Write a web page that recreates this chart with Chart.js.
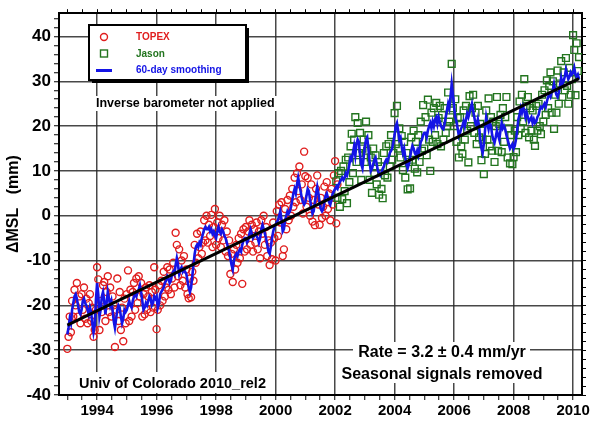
<!doctype html>
<html lang="en">
<head>
  <meta charset="utf-8">
  <title>Mean sea level, TOPEX / Jason</title>
  <script src="https://cdn.jsdelivr.net/npm/chart.js"></script>
  <style>
    html, body { margin: 0; padding: 0; background: #ffffff; }
    #box { width: 593px; height: 421px; }
  </style>
</head>
<body>
  <div id="box"><canvas id="msl" width="593" height="421"></canvas></div>

  <script>
    // --- data (years, mm) ---
    const topexYears = [
      1993,1993.04,1993.08,1993.12,1993.16,1993.2,1993.24,1993.28,1993.32,1993.36,1993.4,1993.44,1993.48,1993.52,1993.56,1993.6,1993.64,1993.68,1993.72,1993.76,1993.8,1993.84,1993.88,1993.92,1993.96,
      1994,1994.04,1994.08,1994.12,1994.16,1994.2,1994.24,1994.28,1994.32,1994.36,1994.4,1994.44,1994.48,1994.52,1994.56,1994.6,1994.64,1994.68,1994.72,1994.76,1994.8,1994.84,1994.88,1994.92,1994.96,
      1995,1995.04,1995.08,1995.12,1995.16,1995.2,1995.24,1995.28,1995.32,1995.36,1995.4,1995.44,1995.48,1995.52,1995.56,1995.6,1995.64,1995.68,1995.72,1995.76,1995.8,1995.84,1995.88,1995.92,1995.96,
      1996,1996.04,1996.08,1996.12,1996.16,1996.2,1996.24,1996.28,1996.32,1996.36,1996.4,1996.44,1996.48,1996.52,1996.56,1996.6,1996.64,1996.68,1996.72,1996.76,1996.8,1996.84,1996.88,1996.92,1996.96,
      1997,1997.04,1997.08,1997.12,1997.16,1997.2,1997.24,1997.28,1997.32,1997.36,1997.4,1997.44,1997.48,1997.52,1997.56,1997.6,1997.64,1997.68,1997.72,1997.76,1997.8,1997.84,1997.88,1997.92,1997.96,
      1998,1998.04,1998.08,1998.12,1998.16,1998.2,1998.24,1998.28,1998.32,1998.36,1998.4,1998.44,1998.48,1998.52,1998.56,1998.6,1998.64,1998.68,1998.72,1998.76,1998.8,1998.84,1998.88,1998.92,1998.96,
      1999,1999.04,1999.08,1999.12,1999.16,1999.2,1999.24,1999.28,1999.32,1999.36,1999.4,1999.44,1999.48,1999.52,1999.56,1999.6,1999.64,1999.68,1999.72,1999.76,1999.8,1999.84,1999.88,1999.92,1999.96,
      2000,2000.04,2000.08,2000.12,2000.16,2000.2,2000.24,2000.28,2000.32,2000.36,2000.4,2000.44,2000.48,2000.52,2000.56,2000.6,2000.64,2000.68,2000.72,2000.76,2000.8,2000.84,2000.88,2000.92,2000.96,
      2001,2001.04,2001.08,2001.12,2001.16,2001.2,2001.24,2001.28,2001.32,2001.36,2001.4,2001.44,2001.48,2001.52,2001.56,2001.6,2001.64,2001.68,2001.72,2001.76,2001.8,2001.84,2001.88,2001.92,2001.96,
      2002,2002.04,2002.08
    ];
    const topexMsl = [
      -29.7,-27,-22.5,-26,-19,-22.5,-16.5,-20,-15,-22.5,-18,-24,-17.5,-21,-16,-23,-18.5,-24,-19.5,-17.5,-23.5,-20.5,-27,-25.5,-21,
      -11.5,-14.2,-25.5,-19,-21.5,-15.5,-14.8,-23.5,-17,-13.5,-21.5,-16,-22.5,-18,-20,-29.3,-21,-14,-23.5,-17,-25.5,-20.5,-28,-18.5,-24,
      -17.5,-12.2,-23.5,-16.5,-22.5,-17,-15,-21,-14,-19.5,-13.5,-18,-15,-22.5,-17.5,-22,-16,-21,-18,-15.5,-21.5,-17,-20.5,-11.5,-16.5,
      -25.3,-21,-15.5,-20,-14.5,-19,-12.5,-18,-16,-11.5,-16.5,-12,-17.5,-14,-10.5,-16,-3.8,-6.5,-13.5,-7.5,-15.5,-10,-14.5,-9,-16,
      -12,-17.5,-18.4,-14,-18.2,-12.5,-14.5,-6.5,-10.5,-4,-9.5,-7,-3.5,-8.5,-6,-1,-5.5,0,-6,-2,-4.5,0.2,-7,-2.5,1.5,
      -6.5,-1.5,-5,0,-7,-2,-5.5,-1,-8,-3.5,-9,-5.5,-13,-8.5,-14.8,-7.5,-12,-6.5,-10.5,-5,-9.5,-4,-15.2,-3,-8,
      -2.5,-7.5,-3.5,-1,-6.5,-2,-8,-3,-6,-1.5,-7.5,-3.5,-9.5,-1,-4,0,-6.5,-2.5,-9,-5.5,-11,-6,-9.7,-1.5,-5,
      -10,1,-4.5,2.5,-1.5,3,-9,-7.5,1.5,-3,3.5,-1,4.5,0,6,2,8.5,3,9.5,5.5,11,3.5,7,0.5,14.3,
      8.8,2,8.4,4,0,7,-1.3,3.5,-2.1,6,9,2.5,-2,4,-0.5,2,6.5,0,7.5,1.5,5,-1,6,2.5,9,
      12.2,-1.7,7
    ];
    const topexSmooth = [
      -26.5,-25,-23,-24,-21,-19.5,-18,-17.5,-18.5,-20,-21.5,-22,-21,-19,-18.5,-19.5,-20,-21,-22,-20.5,-21.5,-24,-26,-24.5,-19,
      -15,-17.5,-22.5,-21,-18,-17,-19,-22,-19.5,-17,-18.5,-20,-19,-21,-23.5,-25,-23,-21,-20,-20.5,-22.5,-24,-23,-21,-21.5,
      -21,-20,-19,-20,-20.5,-19,-18,-17.5,-18,-17,-16.5,-15.5,-17,-19,-21,-20.5,-19.5,-20,-19,-18,-18.5,-20,-19.5,-18,-18.5,
      -18,-20.5,-19.5,-17.5,-17,-16.5,-16,-15,-14.5,-13.5,-14,-15,-14.5,-13,-12.5,-13,-11,-9.5,-11,-13,-12,-11.5,-12.5,-12,-12.5,
      -13,-14.5,-16,-17,-16,-13.5,-11,-8.5,-7,-6.5,-7,-6,-6.5,-5,-4,-3,-2.5,-3,-3,-2.5,-3.5,-3,-4,-3.5,-4.5,
      -5,-3.5,-2.5,-3.5,-4,-3,-3.5,-4.5,-5,-6,-7,-8,-9.5,-11,-12,-10,-9,-8.5,-9,-8,-7.5,-8,-6.5,-5.5,-5,
      -5,-6,-5.5,-4,-3,-4,-5,-4.5,-4,-4.5,-5,-6,-5,-3,-2,-3,-4,-5,-6.5,-8,-8.5,-7,-5,-3.5,-2.5,
      -2,-1.5,-1,0,1,-1,-3.5,-3,-1,0,1,0.5,1,2,3.5,5,6,5,7,8.5,7,5.5,4,3,2.5,
      3,4.5,6,5.5,3.5,2,0.5,1,3,5,6.5,5,3,1.5,1,1.5,3,4.5,5,4,3,2.5,3.5,5,5.5,
      6,6.5,7
    ];

    const jasonYears = [
      2002.04,2002.08,2002.12,2002.16,2002.2,2002.24,2002.28,2002.32,2002.36,2002.4,2002.44,2002.48,2002.52,2002.56,2002.6,2002.64,2002.68,2002.72,2002.76,2002.8,2002.84,2002.88,2002.92,2002.96,
      2003,2003.04,2003.08,2003.12,2003.16,2003.2,2003.24,2003.28,2003.32,2003.36,2003.4,2003.44,2003.48,2003.52,2003.56,2003.6,2003.64,2003.68,2003.72,2003.76,2003.8,2003.84,2003.88,2003.92,2003.96,
      2004,2004.04,2004.08,2004.12,2004.16,2004.2,2004.24,2004.28,2004.32,2004.36,2004.4,2004.44,2004.48,2004.52,2004.56,2004.6,2004.64,2004.68,2004.72,2004.76,2004.8,2004.84,2004.88,2004.92,2004.96,
      2005,2005.04,2005.08,2005.12,2005.16,2005.2,2005.24,2005.28,2005.32,2005.36,2005.4,2005.44,2005.48,2005.52,2005.56,2005.6,2005.64,2005.68,2005.72,2005.76,2005.8,2005.84,2005.88,2005.92,2005.96,
      2006,2006.04,2006.08,2006.12,2006.16,2006.2,2006.24,2006.28,2006.32,2006.36,2006.4,2006.44,2006.48,2006.52,2006.56,2006.6,2006.64,2006.68,2006.72,2006.76,2006.8,2006.84,2006.88,2006.92,2006.96,
      2007,2007.04,2007.08,2007.12,2007.16,2007.2,2007.24,2007.28,2007.32,2007.36,2007.4,2007.44,2007.48,2007.52,2007.56,2007.6,2007.64,2007.68,2007.72,2007.76,2007.8,2007.84,2007.88,2007.92,2007.96,
      2008,2008.04,2008.08,2008.12,2008.16,2008.2,2008.24,2008.28,2008.32,2008.36,2008.4,2008.44,2008.48,2008.52,2008.56,2008.6,2008.64,2008.68,2008.72,2008.76,2008.8,2008.84,2008.88,2008.92,2008.96,
      2009,2009.04,2009.08,2009.12,2009.16,2009.2,2009.24,2009.28,2009.32,2009.36,2009.4,2009.44,2009.48,2009.52,2009.56,2009.6,2009.64,2009.68,2009.72,2009.76,2009.8,2009.84,2009.88,2009.92,2009.96,
      2010,2010.04,2010.08,2010.12,2010.16,2010.2
    ];
    const jasonMsl = [
      7.7,4,9.5,2,10,3.7,11,5.5,12.5,2.8,13,7.5,15.5,18.3,9.5,17,22,12,20.7,14,18.5,8,15,17,
      12,21,14.5,18,8,13,5.1,15,9.5,13.5,7,12,4.7,11,6,3.9,14,9,15.5,8.5,16,11,18,12.5,14,
      22.9,16,24.5,15,19.5,13,17.8,10.2,16.5,8.5,14,5.9,12,6.1,17.5,12.5,19,10.5,16.5,9.7,18,12,21,14.5,24.7,
      15,22,13.5,25.9,17,10,23,16.5,24,18,25.2,16,21.8,24.5,15.5,22.5,17,24,18.5,20,27.5,21,23.5,33.9,24,
      20,26,16.5,21.8,13,22,15.5,13.8,23.5,17,24.5,19,11.9,26.7,20,24,27,18.5,23,16,24.5,17.5,20.5,12.4,17,
      9.3,13.8,23.5,17,26.2,15.5,22,14.5,21,12,20,26.5,14.5,20.5,22.5,14.2,24,16.5,22,26.5,13,19.5,11.7,18,11.5,
      13.1,19,14.2,22,18,25.5,19.5,27,21,30.5,18.5,24.5,26.5,17.5,24,19,23.5,17,15.6,24.5,19,25,20,18.2,27,
      21,28,22.5,30.2,24,29,32,23,30,19.4,27,23,32.4,25,29.5,34.5,26.5,32,28,35.2,29,25,33,27,30.5,
      40.3,37,26.9,38.5,32.3,35.4
    ];
    const jasonSmooth = [
      6.3,6,7,7.5,8,8.5,8,8.5,9.5,9,10,11.5,13,12.5,14,15.5,13.5,16,17,16.5,13.5,11.5,10.6,13,
      15.5,17,17.5,15,12,10,10.5,11.5,12.5,13,11.5,10,9.5,9,9.5,10.5,11,12,12.5,12,13,14,14.5,15,16.5,
      18,20,20.7,19,17,17.5,15.5,14,15,13,11.5,10.6,11.5,13,14.5,15.6,15,14,13.5,14.5,13.5,15,16.5,17,18,
      18.5,18.5,17.5,19,20,20.7,19.5,21,20,21.5,22,20.5,22,21,20,19.5,19.3,20.5,22,23.5,25,24,26.5,29.4,27,
      24.5,22,21,19.5,17.8,18.5,19.5,20,21,20,21.5,22.8,22,23,24,25,23.5,22,20.5,20,21.5,20,17,15,14,
      16,19,22,20.5,19.3,20.7,20,18,17,16.3,17.5,19,18,17,19,20.7,19.5,20,19.3,18,17,16,15,15.5,16,
      15,15.6,17,19,21.5,22.5,24,23,24.3,23.5,22,23,22,21,21.5,22,20.7,21.5,20.7,21,22,22.5,23.7,24.3,24,
      24.5,25,24.3,25.5,26.5,27,26.5,27.5,28,29.4,28,27,26.5,27.5,29,30.8,29.4,30,31,32.6,31.5,30.5,31,32,31.5,
      32,33,31.5,31,31.5,30.5
    ];

    // linear fit, 3.2 mm/yr
    const trendYears = [1993, 2010.2];
    const trendMsl = [-24.4, 30.6];

    const FONT = "'Liberation Sans', Arial, Helvetica, sans-serif";
    const RED = '#e01e1e';
    const GREEN = '#23751f';
    const BLUE = '#1414e6';

    function pts(xs, ys) {
      return xs.map((x, i) => ({ x: x, y: ys[i] }));
    }
    function near(v, step) {
      const r = Math.round(v / step) * step;
      return Math.abs(v - r) < 1e-6 ? r : null;
    }
    const evenYear = v => near(v, 2) !== null;
    const tenMm = v => near(v, 10) !== null;

    // notes, legend box and white patches behind the text
    const notes = {
      id: 'notes',
      beforeDatasetsDraw(chart) {
        const c = chart.ctx;
        c.save();
        c.fillStyle = '#ffffff';
        c.fillRect(94, 96, 184, 15);
        c.fillRect(353, 342, 177, 41);
        c.fillRect(76, 372, 193, 21);
        c.restore();
      },
      afterDraw(chart) {
        const c = chart.ctx;
        c.save();
        // legend box with shadow
        c.fillStyle = '#000';
        c.fillRect(92, 28, 157, 55);
        c.fillStyle = '#fff';
        c.fillRect(89, 25, 157, 55);
        c.strokeStyle = '#000';
        c.lineWidth = 2;
        c.strokeRect(89, 25, 157, 55);

        c.lineWidth = 1.4;
        c.strokeStyle = RED;
        c.beginPath(); c.arc(104, 37, 3.5, 0, Math.PI * 2); c.stroke();
        c.strokeStyle = GREEN;
        c.strokeRect(100.5, 50, 7, 7);
        c.strokeStyle = BLUE;
        c.lineWidth = 3;
        c.beginPath(); c.moveTo(96, 70.5); c.lineTo(112, 70.5); c.stroke();

        c.font = 'bold 10px ' + FONT;
        c.textBaseline = 'alphabetic';
        c.textAlign = 'left';
        c.fillStyle = RED;   c.fillText('TOPEX', 136, 40);
        c.fillStyle = GREEN; c.fillText('Jason', 136, 56.5);
        c.fillStyle = BLUE;  c.fillText('60-day smoothing', 136, 73);

        c.fillStyle = '#000';
        c.font = 'bold 12.5px ' + FONT;
        c.fillText('Inverse barometer not applied', 96, 107);
        c.font = 'bold 14.5px ' + FONT;
        c.fillText('Univ of Colorado 2010_rel2', 79, 388);
        c.font = 'bold 16px ' + FONT;
        c.textAlign = 'center';
        c.fillText('Rate = 3.2 \u00b1 0.4 mm/yr', 442, 357);
        c.fillText('Seasonal signals removed', 442, 379);
        c.restore();
      }
    };

    const gridMajor = 'rgba(40,40,40,0.85)';

    new Chart(document.getElementById('msl'), {
      type: 'scatter',
      data: {
        datasets: [
          {
            label: 'trend', data: pts(trendYears, trendMsl), showLine: true,
            borderColor: '#000', borderWidth: 3, pointRadius: 0, order: 0
          },
          {
            label: '60-day smoothing (TOPEX)', data: pts(topexYears, topexSmooth), showLine: true,
            borderColor: BLUE, borderWidth: 2.6, pointRadius: 0, order: 1
          },
          {
            label: '60-day smoothing (Jason)', data: pts(jasonYears, jasonSmooth), showLine: true,
            borderColor: BLUE, borderWidth: 2.6, pointRadius: 0, order: 1
          },
          {
            label: 'Jason', data: pts(jasonYears, jasonMsl), pointStyle: 'rect',
            pointRadius: 4.8, borderColor: GREEN, borderWidth: 1.4,
            backgroundColor: 'transparent', order: 2
          },
          {
            label: 'TOPEX', data: pts(topexYears, topexMsl), pointStyle: 'circle',
            pointRadius: 3.5, borderColor: RED, borderWidth: 1.4,
            backgroundColor: 'transparent', order: 3
          }
        ]
      },
      options: {
        responsive: false,
        animation: false,
        events: [],
        layout: { padding: 0 },
        plugins: { legend: { display: false }, tooltip: { enabled: false } },
        scales: {
          x: {
            type: 'linear', position: 'bottom', min: 1992.72, max: 2010.3,
            ticks: {
              stepSize: 0.5, autoSkip: false, includeBounds: false, maxRotation: 0, padding: 2,
              color: '#000', font: { family: FONT, size: 15, weight: 'bold' },
              callback: v => evenYear(v) ? String(Math.round(v)) : ''
            },
            grid: {
              color: c => (c.tick && evenYear(c.tick.value)) ? gridMajor : 'transparent',
              lineWidth: 1.5, tickColor: '#000', tickLength: 5, tickWidth: 1
            },
            border: { color: '#000', width: 2 },
            afterFit: s => { s.height = 26; }
          },
          x2: {
            type: 'linear', position: 'top', display: true, min: 1992.72, max: 2010.3,
            ticks: { display: false, stepSize: 0.5, autoSkip: false, includeBounds: false },
            grid: { drawOnChartArea: false, tickColor: '#000', tickLength: 4, tickWidth: 1 },
            border: { color: '#000', width: 2 },
            afterFit: s => { s.height = 4; }
          },
          y: {
            type: 'linear', position: 'left', min: -40, max: 45.2,
            ticks: {
              stepSize: 2, autoSkip: false, includeBounds: false, padding: 3,
              color: '#000', font: { family: FONT, size: 17, weight: 'bold' },
              callback: v => tenMm(v) ? String(Math.round(v)) : ''
            },
            grid: {
              color: c => (c.tick && tenMm(c.tick.value)) ? gridMajor : 'transparent',
              lineWidth: 1.5, tickColor: '#000', tickLength: 5, tickWidth: 1
            },
            border: { color: '#000', width: 2 },
            title: {
              display: true, text: '\u0394MSL   (mm)', color: '#000',
              font: { family: FONT, size: 16, weight: 'bold' },
              padding: { top: 4, bottom: 0 }
            },
            afterFit: s => { s.width = 59; }
          },
          y2: {
            type: 'linear', position: 'right', display: true, min: -40, max: 45.2,
            ticks: { display: false, stepSize: 2, autoSkip: false, includeBounds: false },
            grid: { drawOnChartArea: false, tickColor: '#000', tickLength: 4, tickWidth: 1 },
            border: { color: '#000', width: 2 },
            afterFit: s => { s.width = 11; }
          }
        }
      },
      plugins: [notes]
    });
  </script>
</body>
</html>
